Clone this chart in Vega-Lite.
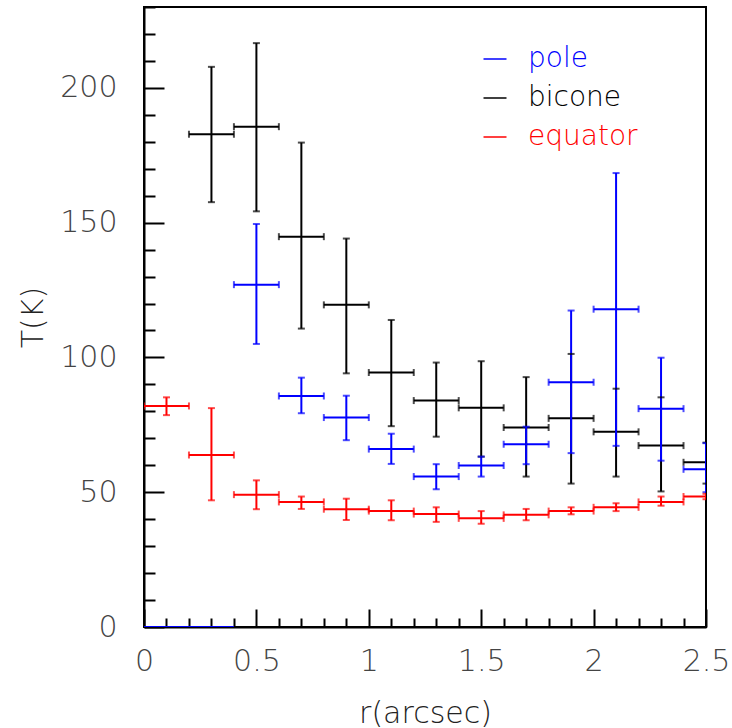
{
  "$schema": "https://vega.github.io/schema/vega-lite/v6.json",
  "width": 562,
  "height": 620,
  "autosize": {"type": "none"},
  "padding": {"left": 144, "top": 7, "right": 26, "bottom": 101},
  "background": "white",
  "config": {
    "view": {"stroke": "#000000", "strokeWidth": 2},
    "font": "DejaVu Sans"
  },
  "data": {
    "values": [
      {"series": "bicone", "r": 0.3, "r0": 0.2, "r1": 0.4, "T": 182.8, "lo": 157.6, "hi": 207.8},
      {"series": "bicone", "r": 0.5, "r0": 0.4, "r1": 0.6, "T": 185.6, "lo": 154.2, "hi": 216.6},
      {"series": "bicone", "r": 0.7, "r0": 0.6, "r1": 0.8, "T": 144.8, "lo": 110.7, "hi": 179.7},
      {"series": "bicone", "r": 0.9, "r0": 0.8, "r1": 1.0, "T": 119.5, "lo": 94.1, "hi": 144.1},
      {"series": "bicone", "r": 1.1, "r0": 1.0, "r1": 1.2, "T": 94.4, "lo": 74.5, "hi": 113.9},
      {"series": "bicone", "r": 1.3, "r0": 1.2, "r1": 1.4, "T": 84.0, "lo": 70.6, "hi": 98.1},
      {"series": "bicone", "r": 1.5, "r0": 1.4, "r1": 1.6, "T": 81.3, "lo": 63.2, "hi": 98.6},
      {"series": "bicone", "r": 1.7, "r0": 1.6, "r1": 1.8, "T": 74.0, "lo": 55.8, "hi": 92.7},
      {"series": "bicone", "r": 1.9, "r0": 1.8, "r1": 2.0, "T": 77.4, "lo": 53.2, "hi": 101.3},
      {"series": "bicone", "r": 2.1, "r0": 2.0, "r1": 2.2, "T": 72.4, "lo": 55.8, "hi": 88.4},
      {"series": "bicone", "r": 2.3, "r0": 2.2, "r1": 2.4, "T": 67.3, "lo": 50.3, "hi": 85.2},
      {"series": "bicone", "r": 2.5, "r0": 2.4, "r1": 2.6, "T": 61.1, "lo": 53.2, "hi": 68.4},
      {"series": "pole", "r": 0.1, "r0": 0.0, "r1": 0.2, "T": 0, "lo": 0, "hi": 0},
      {"series": "pole", "r": 0.3, "r0": 0.2, "r1": 0.4, "T": 0, "lo": 0, "hi": 0},
      {"series": "pole", "r": 0.5, "r0": 0.4, "r1": 0.6, "T": 127.0, "lo": 105.0, "hi": 149.5},
      {"series": "pole", "r": 0.7, "r0": 0.6, "r1": 0.8, "T": 85.7, "lo": 79.3, "hi": 92.5},
      {"series": "pole", "r": 0.9, "r0": 0.8, "r1": 1.0, "T": 77.7, "lo": 69.3, "hi": 85.8},
      {"series": "pole", "r": 1.1, "r0": 1.0, "r1": 1.2, "T": 66.0, "lo": 60.5, "hi": 71.7},
      {"series": "pole", "r": 1.3, "r0": 1.2, "r1": 1.4, "T": 55.8, "lo": 51.1, "hi": 60.4},
      {"series": "pole", "r": 1.5, "r0": 1.4, "r1": 1.6, "T": 59.9, "lo": 55.8, "hi": 63.2},
      {"series": "pole", "r": 1.7, "r0": 1.6, "r1": 1.8, "T": 67.8, "lo": 60.4, "hi": 74.3},
      {"series": "pole", "r": 1.9, "r0": 1.8, "r1": 2.0, "T": 90.8, "lo": 64.5, "hi": 117.4},
      {"series": "pole", "r": 2.1, "r0": 2.0, "r1": 2.2, "T": 117.9, "lo": 67.2, "hi": 168.4},
      {"series": "pole", "r": 2.3, "r0": 2.2, "r1": 2.4, "T": 81.0, "lo": 61.7, "hi": 99.9},
      {"series": "pole", "r": 2.5, "r0": 2.4, "r1": 2.6, "T": 58.5, "lo": 50.0, "hi": 68.2},
      {"series": "equator", "r": 0.1, "r0": 0.0, "r1": 0.2, "T": 82.0, "lo": 78.6, "hi": 85.2},
      {"series": "equator", "r": 0.3, "r0": 0.2, "r1": 0.4, "T": 63.8, "lo": 47.0, "hi": 81.2},
      {"series": "equator", "r": 0.5, "r0": 0.4, "r1": 0.6, "T": 49.1, "lo": 43.7, "hi": 54.4},
      {"series": "equator", "r": 0.7, "r0": 0.6, "r1": 0.8, "T": 46.4, "lo": 43.8, "hi": 48.4},
      {"series": "equator", "r": 0.9, "r0": 0.8, "r1": 1.0, "T": 43.7, "lo": 39.7, "hi": 47.6},
      {"series": "equator", "r": 1.1, "r0": 1.0, "r1": 1.2, "T": 43.0, "lo": 39.6, "hi": 47.0},
      {"series": "equator", "r": 1.3, "r0": 1.2, "r1": 1.4, "T": 41.9, "lo": 39.0, "hi": 44.4},
      {"series": "equator", "r": 1.5, "r0": 1.4, "r1": 1.6, "T": 40.3, "lo": 38.3, "hi": 43.0},
      {"series": "equator", "r": 1.7, "r0": 1.6, "r1": 1.8, "T": 41.6, "lo": 39.6, "hi": 43.8},
      {"series": "equator", "r": 1.9, "r0": 1.8, "r1": 2.0, "T": 43.0, "lo": 41.8, "hi": 44.4},
      {"series": "equator", "r": 2.1, "r0": 2.0, "r1": 2.2, "T": 44.4, "lo": 43.0, "hi": 45.9},
      {"series": "equator", "r": 2.3, "r0": 2.2, "r1": 2.4, "T": 46.4, "lo": 45.0, "hi": 48.4},
      {"series": "equator", "r": 2.5, "r0": 2.4, "r1": 2.6, "T": 48.4, "lo": 47.4, "hi": 49.4}
    ]
  },
  "layer": [
    {
      "mark": {"type": "rule", "strokeWidth": 2, "clip": true},
      "encoding": {
        "x": {
          "field": "r0", "type": "quantitative",
          "scale": {"domain": [0, 2.5], "nice": false, "zero": false},
          "axis": {
            "title": "r(arcsec)",
            "values": [0, 0.1, 0.2, 0.3, 0.4, 0.5, 0.6, 0.7, 0.8, 0.9, 1, 1.1, 1.2, 1.3, 1.4, 1.5, 1.6, 1.7, 1.8, 1.9, 2, 2.1, 2.2, 2.3, 2.4, 2.5],
            "grid": false,
            "domainColor": "#000000", "domainWidth": 2,
            "tickColor": "#000000", "tickWidth": 2,
            "tickSize": {"condition": {"test": "abs(datum.value*2 - round(datum.value*2)) < 0.001", "value": -18}, "value": -9},
            "labelExpr": "abs(datum.value*2 - round(datum.value*2)) < 0.001 ? format(datum.value, '~g') : ''",
            "labelFlush": false, "labelOverlap": false, "labelAngle": 0,
            "labelFontSize": 30, "labelFontWeight": 200, "labelColor": "#444444",
            "labelBaseline": "alphabetic", "labelPadding": 61,
            "titleFontSize": 30, "titleFontWeight": 200, "titleColor": "#222222",
            "titleX": 281, "titleY": 95, "titleBaseline": "alphabetic", "titleAlign": "center"
          }
        },
        "x2": {"field": "r1"},
        "y": {
          "field": "T", "type": "quantitative",
          "scale": {"domain": [0, 230], "nice": false},
          "axis": {
            "title": "T(K)",
            "values": [0, 10, 20, 30, 40, 50, 60, 70, 80, 90, 100, 110, 120, 130, 140, 150, 160, 170, 180, 190, 200, 210, 220, 230],
            "grid": false,
            "domainColor": "#000000", "domainWidth": 2,
            "tickColor": "#000000", "tickWidth": 2,
            "tickSize": {"condition": {"test": "datum.value % 50 == 0", "value": -20}, "value": -11},
            "labelExpr": "datum.value % 50 == 0 ? format(datum.value, 'd') : ''",
            "labelOverlap": false, "labelFlush": false,
            "labelFontSize": 30, "labelFontWeight": 200, "labelColor": "#444444",
            "labelAlign": "right", "labelBaseline": "middle", "labelPadding": 47,
            "titleFontSize": 30, "titleFontWeight": 200, "titleColor": "#222222",
            "titleX": -102, "titleY": 310, "titleAngle": -90, "titleBaseline": "alphabetic", "titleAlign": "center"
          }
        },
        "color": {
          "field": "series", "type": "nominal",
          "scale": {"domain": ["pole", "bicone", "equator"], "range": ["#0000ff", "#000000", "#ff0000"]},
          "legend": {
            "title": null,
            "orient": "none", "legendX": 337, "legendY": 38,
            "symbolType": "stroke", "symbolSize": 529, "symbolStrokeWidth": 1.5,
            "labelFontSize": 28, "labelFontWeight": 200, "labelOffset": 19,
            "rowPadding": 11,
            "encode": {"labels": {"update": {"fill": {"scale": "color", "field": "value"}}}}
          }
        }
      }
    },
    {
      "transform": [{"filter": "datum.hi > datum.lo"}],
      "mark": {"type": "rule", "strokeWidth": 2, "clip": true},
      "encoding": {
        "x": {
          "field": "r", "type": "quantitative",
          "scale": {"domain": [0, 2.5], "nice": false, "zero": false},
          "axis": {
            "title": "r(arcsec)",
            "values": [0, 0.1, 0.2, 0.3, 0.4, 0.5, 0.6, 0.7, 0.8, 0.9, 1, 1.1, 1.2, 1.3, 1.4, 1.5, 1.6, 1.7, 1.8, 1.9, 2, 2.1, 2.2, 2.3, 2.4, 2.5],
            "grid": false,
            "domainColor": "#000000", "domainWidth": 2,
            "tickColor": "#000000", "tickWidth": 2,
            "tickSize": {"condition": {"test": "abs(datum.value*2 - round(datum.value*2)) < 0.001", "value": -18}, "value": -9},
            "labelExpr": "abs(datum.value*2 - round(datum.value*2)) < 0.001 ? format(datum.value, '~g') : ''",
            "labelFlush": false, "labelOverlap": false, "labelAngle": 0,
            "labelFontSize": 30, "labelFontWeight": 200, "labelColor": "#444444",
            "labelBaseline": "alphabetic", "labelPadding": 61,
            "titleFontSize": 30, "titleFontWeight": 200, "titleColor": "#222222",
            "titleX": 281, "titleY": 95, "titleBaseline": "alphabetic", "titleAlign": "center"
          }
        },
        "y": {
          "field": "lo", "type": "quantitative",
          "scale": {"domain": [0, 230], "nice": false},
          "axis": {
            "title": "T(K)",
            "values": [0, 10, 20, 30, 40, 50, 60, 70, 80, 90, 100, 110, 120, 130, 140, 150, 160, 170, 180, 190, 200, 210, 220, 230],
            "grid": false,
            "domainColor": "#000000", "domainWidth": 2,
            "tickColor": "#000000", "tickWidth": 2,
            "tickSize": {"condition": {"test": "datum.value % 50 == 0", "value": -20}, "value": -11},
            "labelExpr": "datum.value % 50 == 0 ? format(datum.value, 'd') : ''",
            "labelOverlap": false, "labelFlush": false,
            "labelFontSize": 30, "labelFontWeight": 200, "labelColor": "#444444",
            "labelAlign": "right", "labelBaseline": "middle", "labelPadding": 47,
            "titleFontSize": 30, "titleFontWeight": 200, "titleColor": "#222222",
            "titleX": -102, "titleY": 310, "titleAngle": -90, "titleBaseline": "alphabetic", "titleAlign": "center"
          }
        },
        "y2": {"field": "hi"},
        "color": {"field": "series", "type": "nominal", "legend": null}
      }
    },
    {
      "transform": [
        {"filter": "datum.hi > datum.lo"},
        {"fold": ["r0", "r1"], "as": ["edge", "redge"]}
      ],
      "mark": {"type": "tick", "orient": "vertical", "size": 7, "thickness": 2, "clip": true},
      "encoding": {
        "x": {
          "field": "redge", "type": "quantitative",
          "scale": {"domain": [0, 2.5], "nice": false, "zero": false},
          "axis": {
            "title": "r(arcsec)",
            "values": [0, 0.1, 0.2, 0.3, 0.4, 0.5, 0.6, 0.7, 0.8, 0.9, 1, 1.1, 1.2, 1.3, 1.4, 1.5, 1.6, 1.7, 1.8, 1.9, 2, 2.1, 2.2, 2.3, 2.4, 2.5],
            "grid": false,
            "domainColor": "#000000", "domainWidth": 2,
            "tickColor": "#000000", "tickWidth": 2,
            "tickSize": {"condition": {"test": "abs(datum.value*2 - round(datum.value*2)) < 0.001", "value": -18}, "value": -9},
            "labelExpr": "abs(datum.value*2 - round(datum.value*2)) < 0.001 ? format(datum.value, '~g') : ''",
            "labelFlush": false, "labelOverlap": false, "labelAngle": 0,
            "labelFontSize": 30, "labelFontWeight": 200, "labelColor": "#444444",
            "labelBaseline": "alphabetic", "labelPadding": 61,
            "titleFontSize": 30, "titleFontWeight": 200, "titleColor": "#222222",
            "titleX": 281, "titleY": 95, "titleBaseline": "alphabetic", "titleAlign": "center"
          }
        },
        "y": {
          "field": "T", "type": "quantitative",
          "scale": {"domain": [0, 230], "nice": false},
          "axis": {
            "title": "T(K)",
            "values": [0, 10, 20, 30, 40, 50, 60, 70, 80, 90, 100, 110, 120, 130, 140, 150, 160, 170, 180, 190, 200, 210, 220, 230],
            "grid": false,
            "domainColor": "#000000", "domainWidth": 2,
            "tickColor": "#000000", "tickWidth": 2,
            "tickSize": {"condition": {"test": "datum.value % 50 == 0", "value": -20}, "value": -11},
            "labelExpr": "datum.value % 50 == 0 ? format(datum.value, 'd') : ''",
            "labelOverlap": false, "labelFlush": false,
            "labelFontSize": 30, "labelFontWeight": 200, "labelColor": "#444444",
            "labelAlign": "right", "labelBaseline": "middle", "labelPadding": 47,
            "titleFontSize": 30, "titleFontWeight": 200, "titleColor": "#222222",
            "titleX": -102, "titleY": 310, "titleAngle": -90, "titleBaseline": "alphabetic", "titleAlign": "center"
          }
        },
        "color": {"field": "series", "type": "nominal", "legend": null}
      }
    },
    {
      "transform": [
        {"filter": "datum.hi > datum.lo"},
        {"fold": ["lo", "hi"], "as": ["end", "tend"]}
      ],
      "mark": {"type": "tick", "orient": "horizontal", "size": 7, "thickness": 2, "clip": true},
      "encoding": {
        "x": {
          "field": "r", "type": "quantitative",
          "scale": {"domain": [0, 2.5], "nice": false, "zero": false},
          "axis": {
            "title": "r(arcsec)",
            "values": [0, 0.1, 0.2, 0.3, 0.4, 0.5, 0.6, 0.7, 0.8, 0.9, 1, 1.1, 1.2, 1.3, 1.4, 1.5, 1.6, 1.7, 1.8, 1.9, 2, 2.1, 2.2, 2.3, 2.4, 2.5],
            "grid": false,
            "domainColor": "#000000", "domainWidth": 2,
            "tickColor": "#000000", "tickWidth": 2,
            "tickSize": {"condition": {"test": "abs(datum.value*2 - round(datum.value*2)) < 0.001", "value": -18}, "value": -9},
            "labelExpr": "abs(datum.value*2 - round(datum.value*2)) < 0.001 ? format(datum.value, '~g') : ''",
            "labelFlush": false, "labelOverlap": false, "labelAngle": 0,
            "labelFontSize": 30, "labelFontWeight": 200, "labelColor": "#444444",
            "labelBaseline": "alphabetic", "labelPadding": 61,
            "titleFontSize": 30, "titleFontWeight": 200, "titleColor": "#222222",
            "titleX": 281, "titleY": 95, "titleBaseline": "alphabetic", "titleAlign": "center"
          }
        },
        "y": {
          "field": "tend", "type": "quantitative",
          "scale": {"domain": [0, 230], "nice": false},
          "axis": {
            "title": "T(K)",
            "values": [0, 10, 20, 30, 40, 50, 60, 70, 80, 90, 100, 110, 120, 130, 140, 150, 160, 170, 180, 190, 200, 210, 220, 230],
            "grid": false,
            "domainColor": "#000000", "domainWidth": 2,
            "tickColor": "#000000", "tickWidth": 2,
            "tickSize": {"condition": {"test": "datum.value % 50 == 0", "value": -20}, "value": -11},
            "labelExpr": "datum.value % 50 == 0 ? format(datum.value, 'd') : ''",
            "labelOverlap": false, "labelFlush": false,
            "labelFontSize": 30, "labelFontWeight": 200, "labelColor": "#444444",
            "labelAlign": "right", "labelBaseline": "middle", "labelPadding": 47,
            "titleFontSize": 30, "titleFontWeight": 200, "titleColor": "#222222",
            "titleX": -102, "titleY": 310, "titleAngle": -90, "titleBaseline": "alphabetic", "titleAlign": "center"
          }
        },
        "color": {"field": "series", "type": "nominal", "legend": null}
      }
    }
  ]
}
